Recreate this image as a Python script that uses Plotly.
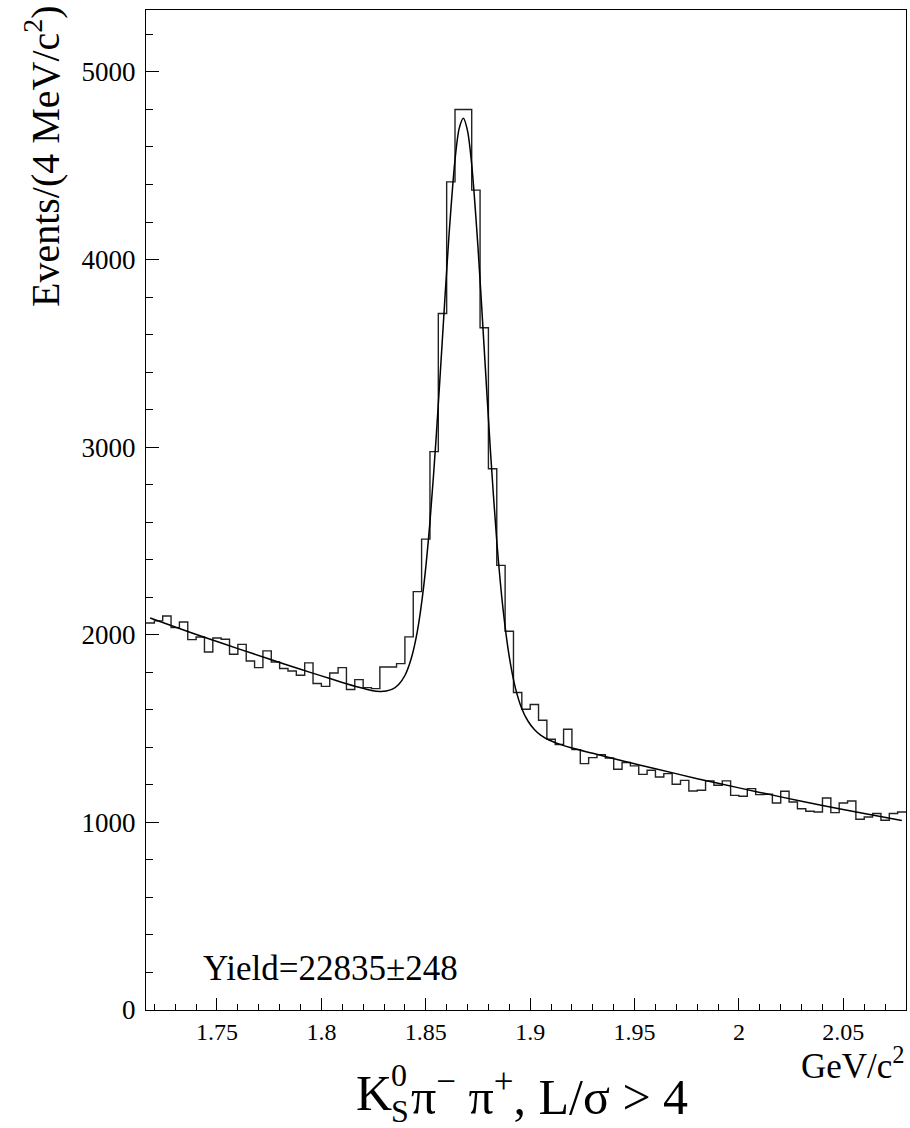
import plotly.graph_objects as go

# ---------------- data ----------------
bin_start = 1.716      # GeV/c^2, low edge of first bin
bin_width = 0.004      # 4 MeV bins
counts = [2063, 2074, 2100, 2038, 2068, 1974, 1988, 1908, 1983, 1976,
          1896, 1949, 1860, 1825, 1914, 1855, 1820, 1807, 1784, 1850,
          1740, 1725, 1796, 1825, 1708, 1761, 1718, 1713, 1828, 1828,
          1846, 1989, 2230, 2510, 2976, 3712, 4414, 4800, 4800, 4370,
          3636, 2885, 2370, 2019, 1692, 1603, 1628, 1544, 1443, 1415,
          1496, 1388, 1313, 1345, 1361, 1343, 1283, 1319, 1301, 1256,
          1278, 1242, 1260, 1203, 1224, 1167, 1171, 1221, 1198, 1221,
          1144, 1139, 1180, 1148, 1150, 1103, 1166, 1109, 1073, 1059,
          1055, 1130, 1052, 1103, 1114, 1017, 1029, 1047, 1011, 1047,
          1055]

fit_mass = [1.718, 1.730, 1.745, 1.760, 1.775, 1.790, 1.800, 1.810, 1.818, 1.824,
            1.828, 1.831, 1.834, 1.837, 1.840, 1.843, 1.846, 1.849, 1.852, 1.855,
            1.858, 1.861, 1.864, 1.866, 1.868, 1.870, 1.872, 1.875, 1.878, 1.881,
            1.884, 1.887, 1.890, 1.893, 1.896, 1.899, 1.902, 1.905, 1.909, 1.914,
            1.920, 1.930, 1.945, 1.960, 1.980, 2.000, 2.020, 2.040, 2.060, 2.078]
fit_events = [2089, 2041, 1983, 1926, 1871, 1816, 1781, 1746, 1720, 1703,
              1698, 1700, 1710, 1735, 1783, 1872, 2021, 2258, 2602, 3056,
              3584, 4111, 4531, 4699, 4753, 4686, 4506, 4066, 3521, 2974,
              2500, 2138, 1882, 1713, 1606, 1539, 1495, 1465, 1439, 1417,
              1396, 1368, 1326, 1286, 1233, 1184, 1136, 1090, 1047, 1010]

x_range = [1.716, 2.080]
y_range = [0, 5330]
x_tickvals = [1.75, 1.80, 1.85, 1.90, 1.95, 2.00, 2.05]
x_ticktext = ["1.75", "1.8", "1.85", "1.9", "1.95", "2", "2.05"]
y_tickvals = [0, 1000, 2000, 3000, 4000, 5000]
y_ticktext = ["0", "1000", "2000", "3000", "4000", "5000"]

yield_text = "Yield=22835±248"
y_title = "Events/(4 MeV/c<sup>2</sup>)"
x_title = "GeV/c<sup>2</sup>"

# ---------------- layout helpers ----------------
W, H = 910, 1128
L, R, T, B = 146, 4, 10, 118
PW, PH = W - L - R, H - T - B


def px(xp):
    return (xp - L) / PW


def py(yp):
    return (H - B - yp) / PH


FONT = "Liberation Serif, Times New Roman, serif"

# histogram outline built from bin edges
edges = [bin_start + bin_width * i for i in range(len(counts) + 1)]
hx = edges
hy = counts + [counts[-1]]

fig = go.Figure()
fig.add_trace(go.Scatter(x=hx, y=hy, mode="lines", line=dict(color="#222222", width=1.4, shape="hv"),
                         showlegend=False, hoverinfo="skip"))
fig.add_trace(go.Scatter(x=fit_mass, y=fit_events, mode="lines",
                         line=dict(color="black", width=1.5, shape="spline", smoothing=0.8),
                         showlegend=False, hoverinfo="skip"))

fig.update_layout(
    width=W, height=H,
    margin=dict(l=L, r=R, t=T, b=B, pad=0),
    paper_bgcolor="white", plot_bgcolor="white",
    font=dict(family=FONT, color="black"),
    xaxis=dict(range=x_range, tickmode="array", tickvals=x_tickvals, ticktext=x_ticktext,
               ticks="inside", ticklen=12, tickwidth=1, tickcolor="black",
               minor=dict(tickmode="linear", tick0=1.72, dtick=0.01, ticks="inside", ticklen=6,
                          tickwidth=1, tickcolor="black"),
               showline=True, linecolor="black", linewidth=1, mirror=True,
               showgrid=False, zeroline=False, tickfont=dict(size=24, family=FONT)),
    yaxis=dict(range=y_range, tickmode="array", tickvals=y_tickvals, ticktext=y_ticktext,
               ticks="inside", ticklen=13, tickwidth=1, tickcolor="black",
               minor=dict(tickmode="linear", tick0=0, dtick=200, ticks="inside", ticklen=7,
                          tickwidth=1, tickcolor="black"),
               showline=True, linecolor="black", linewidth=1, mirror=True,
               showgrid=False, zeroline=False, tickfont=dict(size=27, family=FONT),
               ticklabelstandoff=4),
)

ann = []
# y-axis title, at top-left like ROOT
ann.append(dict(text=y_title, x=px(42), y=py(3), xref="paper", yref="paper",
                xanchor="center", yanchor="top", textangle=-90, showarrow=False,
                font=dict(size=40, family=FONT)))
# x-axis title, bottom right
ann.append(dict(text=x_title, x=px(907), y=py(1063), xref="paper", yref="paper",
                xanchor="right", yanchor="middle", showarrow=False,
                font=dict(size=35, family=FONT)))
# yield label
ann.append(dict(text=yield_text, x=px(201), y=py(968), xref="paper", yref="paper",
                xanchor="left", yanchor="middle", showarrow=False,
                font=dict(size=35, family=FONT)))
# bottom title: K^0_S pi- pi+, L/sigma > 4 (stacked sup/sub)
ann.append(dict(text="K", x=px(354), y=py(1093), xref="paper", yref="paper",
                xanchor="left", yanchor="middle", showarrow=False, font=dict(size=50, family=FONT)))
ann.append(dict(text="0", x=px(389), y=py(1075), xref="paper", yref="paper",
                xanchor="left", yanchor="middle", showarrow=False, font=dict(size=32, family=FONT)))
ann.append(dict(text="S", x=px(389), y=py(1111), xref="paper", yref="paper",
                xanchor="left", yanchor="middle", showarrow=False, font=dict(size=32, family=FONT)))
ann.append(dict(text="π<sup>−</sup> π<sup>+</sup>, L/σ > 4", x=px(409), y=py(1093),
                xref="paper", yref="paper", xanchor="left", yanchor="middle", showarrow=False,
                font=dict(size=50, family=FONT)))
fig.update_layout(annotations=ann)

fig.write_html("out.html")
